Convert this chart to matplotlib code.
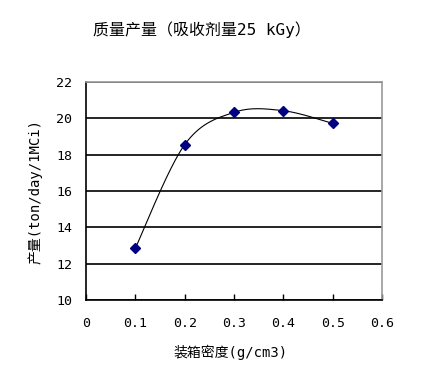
import numpy as np
import matplotlib
matplotlib.use("Agg")
import matplotlib.pyplot as plt

plt.rcParams['font.family'] = ['DejaVu Sans Mono', 'Noto Sans CJK SC']

density = [0.1, 0.2, 0.3, 0.4, 0.5]
output = [12.85, 18.55, 20.33, 20.42, 19.72]
x_ticks = [0, 0.1, 0.2, 0.3, 0.4, 0.5, 0.6]
x_tick_labels = ["0", "0.1", "0.2", "0.3", "0.4", "0.5", "0.6"]
y_ticks = [10, 12, 14, 16, 18, 20, 22]
title = "质量产量（吸收剂量25 kGy）"
xlabel = "装箱密度(g/cm3)"
ylabel = "产量(ton/day/1MCi)"


def smooth(xs, ys, n=40):
    # Catmull-Rom style smoothing similar to a spreadsheet smoothed line
    xs = np.asarray(xs, float)
    ys = np.asarray(ys, float)
    px = np.concatenate([[xs[0]], xs, [xs[-1]]])
    py = np.concatenate([[ys[0]], ys, [ys[-1]]])
    outx, outy = [], []
    t = np.linspace(0, 1, n)
    for i in range(1, len(px) - 2):
        p0x, p1x, p2x, p3x = px[i - 1], px[i], px[i + 1], px[i + 2]
        p0y, p1y, p2y, p3y = py[i - 1], py[i], py[i + 1], py[i + 2]
        c1x = p1x + (p2x - p0x) / 6
        c1y = p1y + (p2y - p0y) / 6
        c2x = p2x - (p3x - p1x) / 6
        c2y = p2y - (p3y - p1y) / 6
        bx = (1 - t) ** 3 * p1x + 3 * (1 - t) ** 2 * t * c1x + 3 * (1 - t) * t ** 2 * c2x + t ** 3 * p2x
        by = (1 - t) ** 3 * p1y + 3 * (1 - t) ** 2 * t * c1y + 3 * (1 - t) * t ** 2 * c2y + t ** 3 * p2y
        outx.extend(bx)
        outy.extend(by)
    return np.array(outx), np.array(outy)


fig = plt.figure(figsize=(4.31, 3.75), dpi=100)
ax = fig.add_axes([86 / 431, 1 - 300 / 375, (382 - 86) / 431, (300 - 82) / 375])

ax.set_xlim(0, 0.6)
ax.set_ylim(10, 22)
ax.set_yticks(y_ticks)
ax.set_xticks(x_ticks)
ax.set_xticklabels(x_tick_labels)
ax.yaxis.grid(True, color='black', linewidth=1.2)
ax.set_axisbelow(True)

sx, sy = smooth(density, output)
ax.plot(sx, sy, color='black', linewidth=0.8, zorder=3)
ax.plot(density, output, linestyle='none', marker='D', markersize=5.5,
        markerfacecolor='#000080', markeredgecolor='#000080', zorder=4)

for s in ['left', 'bottom']:
    ax.spines[s].set_color('black')
    ax.spines[s].set_linewidth(1.2)
for s in ['top', 'right']:
    ax.spines[s].set_color('#999999')
    ax.spines[s].set_linewidth(1.2)

ax.tick_params(axis='x', direction='in', length=4, width=1, pad=12, labelsize=9.5)
ax.tick_params(axis='y', length=0, pad=10, labelsize=9.5)
ax.xaxis.set_ticks_position('bottom')

fig.text(202 / 431, 1 - 30 / 375, title, ha='center', va='center', fontsize=11.5)
fig.text(231 / 431, 1 - 352 / 375, xlabel, ha='center', va='center', fontsize=10)
fig.text(35 / 431, 1 - 192 / 375, ylabel, ha='center', va='center', fontsize=10, rotation=90)

fig.savefig('out.png', dpi=100, facecolor='white')
